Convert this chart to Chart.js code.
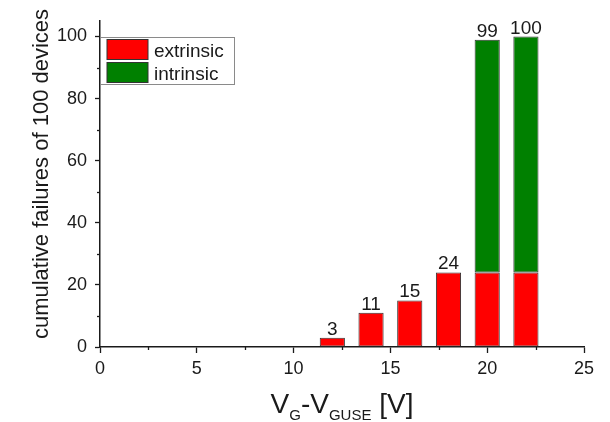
<!DOCTYPE html>
<html lang="en">
  <head>
    <meta charset="UTF-8" />
    <title>Cumulative failures</title>
    <style>
      html, body { margin: 0; padding: 0; background: #fff; }
      #wrap { position: relative; width: 610px; height: 422px; }
    </style>
  </head>
  <body>
    <div id="wrap"><canvas id="failChart" width="610" height="422"></canvas></div>
    <script src="https://cdn.jsdelivr.net/npm/chart.js"></script>
    <script>
      // gate voltage above GUSE (V) and cumulative failures
      const voltages = [12, 14, 16, 18, 20, 22];
      const extrinsic = [3, 11, 15, 24, 24, 24];
      const intrinsic = [null, null, null, null, 75, 76];

      const xTicks = [0, 5, 10, 15, 20, 25];
      const yTicks = [0, 20, 40, 60, 80, 100];

      const FONT = "'Liberation Sans', Arial, sans-serif";
      const INK = "#1a1a1a";

      const extras = {
        id: "extras",
        afterDraw(chart) {
          const { ctx, scales } = chart;
          const xs = scales.x, ys = scales.y;
          ctx.save();
          ctx.strokeStyle = INK;
          ctx.lineWidth = 1.3;

          // minor ticks
          for (let v = 10; v < 105; v += 20) {
            const py = Math.round(ys.getPixelForValue(v)) + 0.5;
            ctx.beginPath();
            ctx.moveTo(xs.left, py);
            ctx.lineTo(xs.left - 3, py);
            ctx.stroke();
          }
          for (let v = 2.5; v < 25; v += 5) {
            const px = Math.round(xs.getPixelForValue(v)) + 0.5;
            ctx.beginPath();
            ctx.moveTo(px, ys.bottom);
            ctx.lineTo(px, ys.bottom + 3);
            ctx.stroke();
          }

          // totals above the bars
          ctx.fillStyle = INK;
          ctx.font = "19px " + FONT;
          ctx.textAlign = "center";
          ctx.textBaseline = "alphabetic";
          voltages.forEach((v, i) => {
            const total = (extrinsic[i] || 0) + (intrinsic[i] || 0);
            ctx.fillText(String(total), xs.getPixelForValue(v), ys.getPixelForValue(total) - 3);
          });

          // legend
          const lx = xs.left, ly = Math.round(ys.getPixelForValue(100));
          ctx.strokeStyle = "#8a8a8a";
          ctx.lineWidth = 1;
          ctx.strokeRect(lx + 0.5, ly + 0.5, 134, 47);
          const items = [
            { label: "extrinsic", color: "#ff0000" },
            { label: "intrinsic", color: "#008000" },
          ];
          ctx.textAlign = "left";
          items.forEach((it, i) => {
            const top = ly + 2.5 + i * 23;
            ctx.fillStyle = it.color;
            ctx.fillRect(lx + 7, top, 41, 20);
            ctx.strokeStyle = "#333";
            ctx.strokeRect(lx + 7, top, 41, 20);
            ctx.fillStyle = INK;
            ctx.fillText(it.label, lx + 54, top + 17);
          });

          // y title
          ctx.save();
          ctx.translate(48, 174);
          ctx.rotate(-Math.PI / 2);
          ctx.font = "22px " + FONT;
          ctx.textAlign = "center";
          ctx.fillText("cumulative failures of 100 devices", 0, 0);
          ctx.restore();

          // x title with subscripts
          const parts = [
            { t: "V", sub: false },
            { t: "G", sub: true },
            { t: "-V", sub: false },
            { t: "GUSE", sub: true },
            { t: " [V]", sub: false },
          ];
          const big = "28px " + FONT, small = "15px " + FONT;
          let w = 0;
          parts.forEach((p) => {
            ctx.font = p.sub ? small : big;
            p.w = ctx.measureText(p.t).width;
            w += p.w;
          });
          let cx = (xs.left + xs.right) / 2 - w / 2;
          ctx.textAlign = "left";
          parts.forEach((p) => {
            ctx.font = p.sub ? small : big;
            ctx.fillText(p.t, cx, p.sub ? 420 : 413);
            cx += p.w;
          });
          ctx.restore();
        },
      };

      const ctx = document.getElementById("failChart").getContext("2d");
      new Chart(ctx, {
        type: "bar",
        data: {
          datasets: [
            {
              label: "extrinsic",
              data: voltages.map((v, i) => ({ x: v, y: extrinsic[i] })),
              backgroundColor: "#ff0000",
              borderColor: "#333",
              borderWidth: 1,
              borderSkipped: false,
            },
            {
              label: "intrinsic",
              data: voltages.map((v, i) => ({ x: v, y: intrinsic[i] })),
              backgroundColor: "#008000",
              borderColor: "#333",
              borderWidth: 1,
              borderSkipped: false,
            },
          ],
        },
        options: {
          responsive: false,
          animation: false,
          categoryPercentage: 1,
          barPercentage: 0.65,
          layout: { padding: { top: 21, right: 26, left: 0, bottom: 0 } },
          plugins: { legend: { display: false }, tooltip: { enabled: false } },
          scales: {
            x: {
              type: "linear",
              stacked: true,
              min: 0,
              max: 25,
              offset: false,
              afterFit: (s) => { s.height = 75; },
              afterBuildTicks: (s) => { s.ticks = xTicks.map((v) => ({ value: v })); },
              grid: { display: true, offset: false, drawOnChartArea: false, tickLength: 6, tickWidth: 1.3, color: INK },
              border: { display: true, color: INK, width: 1.5 },
              ticks: { font: { family: FONT, size: 18 }, color: INK, padding: 5, maxRotation: 0 },
            },
            y: {
              stacked: true,
              min: 0,
              max: 105,
              afterFit: (s) => { s.width = 100; },
              afterBuildTicks: (s) => { s.ticks = yTicks.map((v) => ({ value: v })); },
              grid: { display: true, drawOnChartArea: false, tickLength: 5, tickWidth: 1.3, color: INK },
              border: { display: true, color: INK, width: 1.5 },
              ticks: { font: { family: FONT, size: 18 }, color: INK, padding: 8 },
            },
          },
        },
        plugins: [extras],
      });
    </script>
  </body>
</html>
